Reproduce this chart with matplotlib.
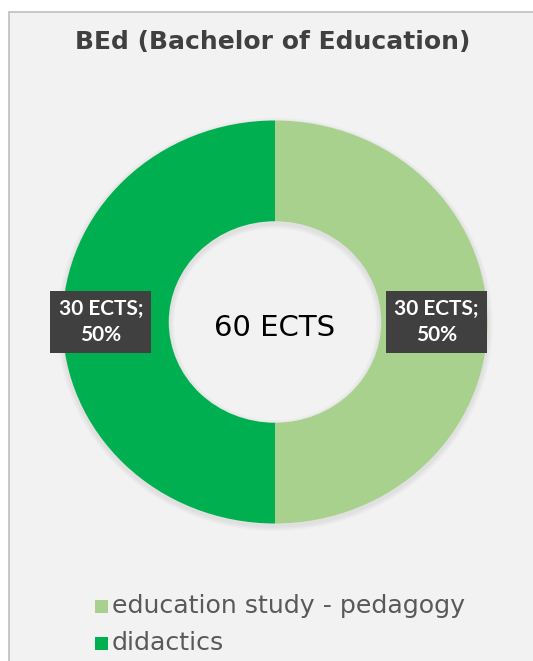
import numpy as np
import matplotlib.pyplot as plt
from matplotlib.patches import Rectangle

# data
categories = ["education study - pedagogy", "didactics"]
ects = [30, 30]
colors = ["#a9d18e", "#00b050"]
title = "BEd (Bachelor of Education)"
center_text = "60 ECTS"
label_radius = [0.76, 0.82]

W, H = 533, 661
fig = plt.figure(figsize=(W / 100, H / 100), dpi=100)
fig.patch.set_facecolor("white")

# gray chart panel with border
fig.patches.append(Rectangle((9 / W, -0.01), 1.0, 1.01 - 12 / H, transform=fig.transFigure,
                             facecolor="#f2f2f2", edgecolor="#bfbfbf", linewidth=1.2, zorder=-5))

ax = fig.add_axes([62.5 / W, 137.5 / H, 425 / W, 403 / H])
ax.set_zorder(2)
ax.patch.set_alpha(0)

total = sum(ects)
# soft shadow
for k in range(3):
    ax.pie([1], radius=1.0 + 0.008 * (k + 1), colors=["#808080"], center=(0.0, -0.012),
           wedgeprops=dict(width=0.5 + 0.016 * (k + 1), alpha=0.05, linewidth=0), frame=True)

wedges, _ = ax.pie(ects, colors=colors, startangle=90, counterclock=False, radius=1.0,
                   wedgeprops=dict(width=0.5, linewidth=0), frame=True)
ax.set_aspect("auto")
ax.set_xlim(-1, 1)
ax.set_ylim(-1, 1)
ax.axis("off")

for w, v, r in zip(wedges, ects, label_radius):
    ang = np.deg2rad((w.theta1 + w.theta2) / 2)
    x, y = r * np.cos(ang), r * np.sin(ang)
    txt = f"{v} ECTS;\n{v / total * 100:.0f}%"
    ax.text(x, y, txt, ha="center", va="center", color="white",
            fontsize=15, fontweight="bold", family="Lato", linespacing=1.35,
            bbox=dict(boxstyle="square,pad=0.4", facecolor="#404040", edgecolor="none"))

ax.text(0, -0.03, center_text, ha="center", va="center", fontsize=21, color="black",
        family="DejaVu Sans")

fig.text(273 / W, 1 - 42 / H, title, ha="center", va="center", fontsize=18,
         fontweight="bold", color="#404040", family="DejaVu Sans")

# legend
for i, (c, lab) in enumerate(zip(colors, categories)):
    yy = 1 - (606 + 37 * i) / H
    fig.patches.append(Rectangle((95 / W, yy - 7 / H), 13 / W, 13 / H, transform=fig.transFigure,
                                 facecolor=c, edgecolor="none"))
    fig.text(112 / W, yy, lab, ha="left", va="center", fontsize=18.2, color="#595959",
             family="DejaVu Sans")

fig.savefig("out.png", dpi=100, facecolor=fig.get_facecolor())
